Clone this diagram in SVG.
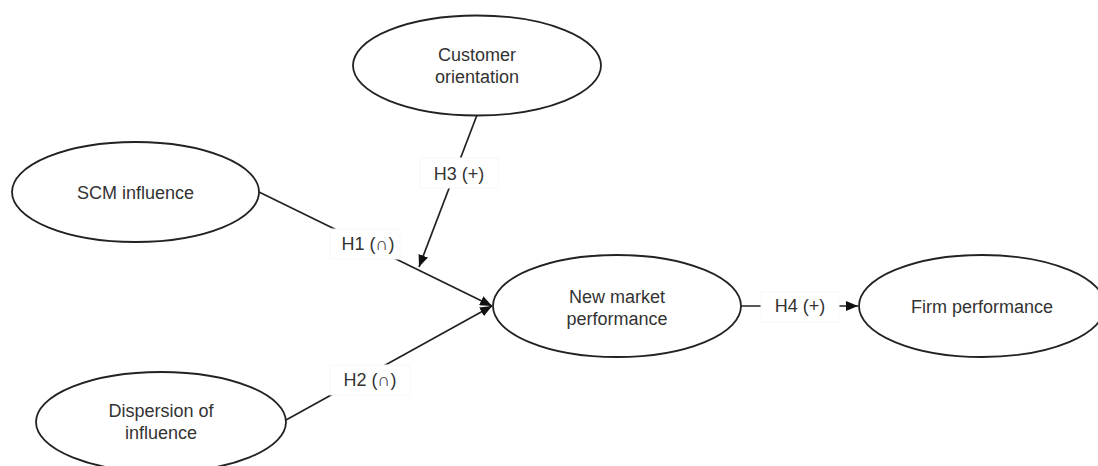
<svg xmlns="http://www.w3.org/2000/svg" width="1098" height="466" viewBox="0 0 1098 466">
  <style>
    .node ellipse { fill: #ffffff; stroke: #222222; stroke-width: 1.8; }
    .node text, .label text { font-family: "Liberation Sans", Arial, sans-serif; font-size: 18px; fill: #333333; text-anchor: middle; }
    .edge { stroke: #222222; stroke-width: 1.7; fill: none; }
    .label rect { fill: #ffffff; stroke: #f8f8f8; stroke-width: 1; }
  </style>
  <defs>
    <marker id="arrow" markerUnits="userSpaceOnUse" markerWidth="12" markerHeight="10" refX="12" refY="5" orient="auto">
      <path d="M0,0 L12,5 L0,10 z" fill="#111111"/>
    </marker>
  </defs>
  <rect width="1098" height="466" fill="#ffffff"/>

  <g id="connectors">
    <line class="edge" x1="259" y1="192" x2="492" y2="306" marker-end="url(#arrow)"/>
    <line class="edge" x1="286" y1="420" x2="492" y2="306" marker-end="url(#arrow)"/>
    <line class="edge" x1="477" y1="115" x2="419" y2="267" marker-end="url(#arrow)"/>
    <line class="edge" x1="741" y1="306" x2="858" y2="306" marker-end="url(#arrow)"/>
    <g class="label" id="label-h1">
      <rect x="330" y="229" width="70" height="30"/>
      <text x="368" y="250">H1 (∩)</text>
    </g>
    <g class="label" id="label-h2">
      <rect x="330" y="365" width="80" height="30"/>
      <text x="370" y="386">H2 (∩)</text>
    </g>
    <g class="label" id="label-h3">
      <rect x="420" y="158" width="78" height="30"/>
      <text x="459" y="180">H3 (+)</text>
    </g>
    <g class="label" id="label-h4">
      <rect x="761" y="292" width="78" height="30"/>
      <text x="800" y="312">H4 (+)</text>
    </g>
  </g>

  <g id="customer-orientation" class="node">
    <ellipse cx="477" cy="65.5" rx="124" ry="50"/>
    <text x="477" y="61">Customer</text>
    <text x="477" y="83">orientation</text>
  </g>
  <g id="scm-influence" class="node">
    <ellipse cx="135.5" cy="192" rx="123.5" ry="50"/>
    <text x="135.5" y="199">SCM influence</text>
  </g>
  <g id="dispersion-of-influence" class="node">
    <ellipse cx="161" cy="422" rx="125" ry="50"/>
    <text x="161" y="417">Dispersion of</text>
    <text x="161" y="439">influence</text>
  </g>
  <g id="new-market-performance" class="node">
    <ellipse cx="617" cy="306" rx="124" ry="51"/>
    <text x="617" y="303">New market</text>
    <text x="617" y="325">performance</text>
  </g>
  <g id="firm-performance" class="node">
    <ellipse cx="982" cy="306" rx="123" ry="51"/>
    <text x="982" y="313">Firm performance</text>
  </g>
</svg>
